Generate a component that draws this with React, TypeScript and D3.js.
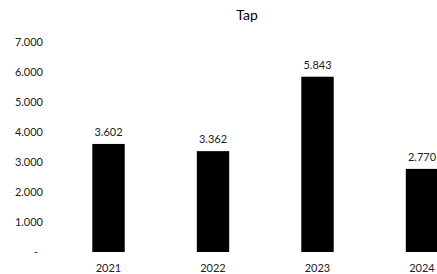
import React, { useEffect, useRef } from 'react';
import * as d3 from 'd3';

const years = ['2021', '2022', '2023', '2024'];
const values = [3602, 3362, 5843, 2770];
const yTicks = [0, 1000, 2000, 3000, 4000, 5000, 6000, 7000];

const fmt = (v: number) => (v === 0 ? '-' : d3.format(',')(v).replace(/,/g, '.'));

const App = () => {
  const svgRef = useRef<SVGSVGElement>(null);

  useEffect(() => {
    const width = 437;
    const height = 274;
    const font = 'Lato, "Open Sans", sans-serif';

    const svg = d3.select(svgRef.current)
      .attr('width', width)
      .attr('height', height);

    svg.selectAll('*').remove();

    const x = d3.scaleBand<string>()
      .domain(years)
      .range([56.25, 474.25])
      .paddingInner(0.69)
      .paddingOuter(0.345);

    const y = d3.scaleLinear()
      .domain([0, 7000])
      .range([252, 42]);

    // title
    svg.append('text')
      .attr('x', 247)
      .attr('y', 20)
      .attr('text-anchor', 'middle')
      .attr('font-family', font)
      .attr('font-size', 14)
      .attr('fill', '#000')
      .text('Tap');

    // y labels (no axis line)
    svg.append('g')
      .selectAll('text')
      .data(yTicks)
      .join('text')
      .attr('x', d => (d === 0 ? 38 : 43))
      .attr('y', d => y(d))
      .attr('dy', '0.35em')
      .attr('text-anchor', 'end')
      .attr('font-family', font)
      .attr('font-size', 11)
      .attr('fill', '#222')
      .text(d => fmt(d));

    // bars
    svg.append('g')
      .selectAll('rect')
      .data(values)
      .join('rect')
      .attr('x', (d, i) => x(years[i])!)
      .attr('y', d => y(d))
      .attr('width', x.bandwidth())
      .attr('height', d => y(0) - y(d))
      .attr('fill', '#000');

    // value labels
    svg.append('g')
      .selectAll('text')
      .data(values)
      .join('text')
      .attr('x', (d, i) => x(years[i])! + x.bandwidth() / 2)
      .attr('y', d => y(d) - 8)
      .attr('text-anchor', 'middle')
      .attr('font-family', font)
      .attr('font-size', 11)
      .attr('fill', '#222')
      .text(d => fmt(d));

    // x labels
    svg.append('g')
      .selectAll('text')
      .data(years)
      .join('text')
      .attr('x', d => x(d)! + x.bandwidth() / 2)
      .attr('y', 272)
      .attr('text-anchor', 'middle')
      .attr('font-family', font)
      .attr('font-size', 11)
      .attr('fill', '#222')
      .text(d => d);
  }, []);

  return (
    <div style={{ position: 'absolute', left: 0, top: 0 }}>
      <svg ref={svgRef} style={{ display: 'block', background: '#fff' }}></svg>
    </div>
  );
};

export default App;
